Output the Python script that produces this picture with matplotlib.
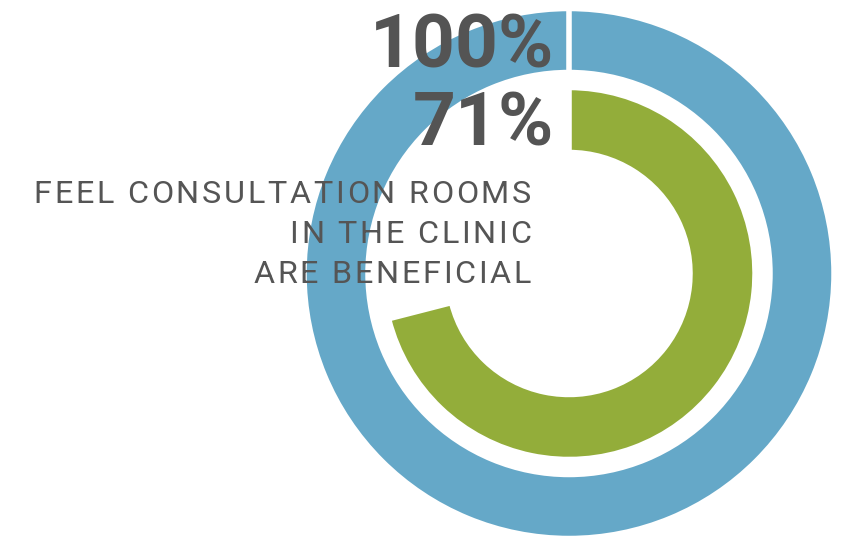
import matplotlib
matplotlib.use("Agg")
import matplotlib.pyplot as plt
from matplotlib import font_manager
from matplotlib.ft2font import FT2Font

# ring values (percent of respondents)
ring_labels = ["100%", "71%"]
ring_values = [100, 71]
ring_colors = ["#65a8c8", "#93ad3a"]
caption_lines = ["FEEL CONSULTATION ROOMS", "IN THE CLINIC", "ARE BENEFICIAL"]

W, H = 848, 542
DPI = 100
fig = plt.figure(figsize=(W / DPI, H / DPI), dpi=DPI)
ax = fig.add_axes([0, 0, 1, 1])

cx, cy = 569, H - 273.5
rings = [(264, 62), (185, 63)]   # outer radius, thickness in px

for (r, w), v, c in zip(rings, ring_values, ring_colors):
    wedges, _ = ax.pie([v, 100 - v] if v < 100 else [v], colors=[c, "none"],
                       radius=r, center=(cx, cy), startangle=90,
                       counterclock=False, frame=True,
                       wedgeprops=dict(width=w, edgecolor="white", lw=2.5))
    if v < 100:
        wedges[1].set_visible(False)
    # white separator at the start of each ring
    ax.plot([cx, cx], [cy + r - w - 2, cy + r + 2], color="white", lw=4,
            solid_capstyle="butt", zorder=3)

ax.set_xlim(0, W)
ax.set_ylim(0, H)
ax.set_aspect("equal")
ax.axis("off")

txt = "#545454"
for lbl, base in zip(ring_labels, [68, 145]):
    ax.text(554, H - base, lbl, ha="right", va="baseline", fontsize=54,
            fontweight="bold", family="Roboto", color=txt, zorder=4)


def tracked_text(x_right, y, s, size, track, family="Roboto", **kw):
    """Right-aligned text with extra letter spacing (px), one glyph at a time."""
    path = font_manager.findfont(font_manager.FontProperties(family=family))
    ft = FT2Font(path)
    ft.set_size(size, DPI)
    adv = [ft.load_char(ord(ch)).linearHoriAdvance / 65536 for ch in s]
    x = x_right - (sum(adv) + track * (len(s) - 1))
    for ch, a in zip(s, adv):
        if ch != " ":
            ax.text(x, y, ch, ha="left", va="baseline", fontsize=size,
                    family=family, **kw)
        x += a + track


for line, base in zip(caption_lines, [203, 243, 283]):
    tracked_text(531, H - base, line, 23.3, 2.7, color="#555555", zorder=4)

fig.savefig("out.png", dpi=DPI, facecolor="white")
